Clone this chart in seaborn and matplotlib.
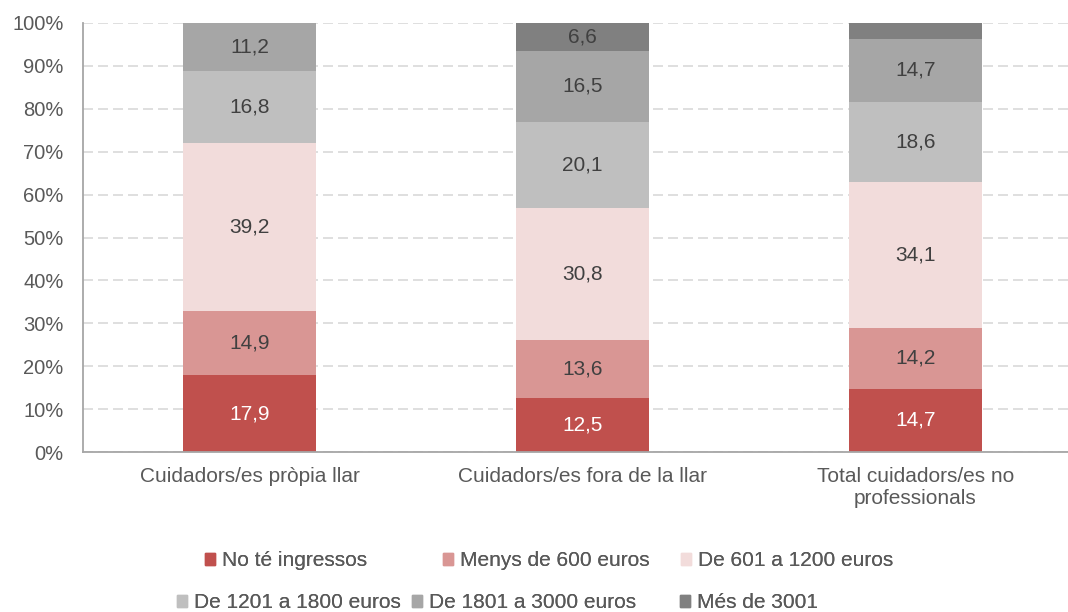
"""Stacked 100% bar chart: income of non-professional carers."""

import numpy as np
import pandas as pd
import matplotlib
matplotlib.use("Agg")
import matplotlib.pyplot as plt
import matplotlib.patches as mpatches
import seaborn as sns

CATEGORIES = [
    "Cuidadors/es pròpia llar",
    "Cuidadors/es fora de la llar",
    "Total cuidadors/es no\nprofessionals",
]
SERIES = [
    "No té ingressos",
    "Menys de 600 euros",
    "De 601 a 1200 euros",
    "De 1201 a 1800 euros",
    "De 1801 a 3000 euros",
    "Més de 3001",
]
NO_INGRESSOS = [17.9, 12.5, 14.7]
MENYS_600 = [14.9, 13.6, 14.2]
DE_601_1200 = [39.2, 30.8, 34.1]
DE_1201_1800 = [16.8, 20.1, 18.6]
DE_1801_3000 = [11.2, 16.5, 14.7]
MES_3001 = [0.0, 6.6, 3.7]
SHOW_LABEL_3001 = [False, True, False]

COLORS = ["#C0504D", "#D99694", "#F2DCDB", "#BFBFBF", "#A6A6A6", "#808080"]
TEXT = "#595959"

W, H = 1068, 612

values = np.array([NO_INGRESSOS, MENYS_600, DE_601_1200,
                   DE_1201_1800, DE_1801_3000, MES_3001])
cum = values.cumsum(axis=0)

sns.set_style("white")
plt.rcParams["font.family"] = ["Liberation Sans", "DejaVu Sans"]

fig = plt.figure(figsize=(W / 100, H / 100), dpi=100)
ax = fig.add_axes([83 / W, 160 / H, 999 / W, 429 / H])

# stacked bars: draw cumulative totals from the top down
for k in range(len(SERIES) - 1, -1, -1):
    df = pd.DataFrame({"cat": CATEGORIES, "val": cum[k]})
    sns.barplot(data=df, x="cat", y="val", order=CATEGORIES, color=COLORS[k],
                saturation=1, width=0.4, ax=ax, zorder=2, linewidth=0)

# data labels
for k in range(len(SERIES)):
    for i in range(len(CATEGORIES)):
        v = values[k, i]
        if v <= 0:
            continue
        if k == 5 and not SHOW_LABEL_3001[i]:
            continue
        y = cum[k, i] - v / 2
        col = "white" if k == 0 else "#404040"
        ax.text(i, y, f"{v:.1f}".replace(".", ","), ha="center", va="center",
                fontsize=15, color=col, zorder=3)

ax.set_xlim(-0.5, 2.5)
ax.set_ylim(0, 100)
ax.set_yticks(np.arange(0, 101, 10))
ax.set_yticklabels([f"{t}%" for t in range(0, 101, 10)])
ax.yaxis.grid(True, color="#D9D9D9", linestyle=(0, (6, 3)), linewidth=1.2)
ax.set_axisbelow(True)
ax.set_xlabel("")
ax.set_ylabel("")
ax.tick_params(axis="both", length=0, colors=TEXT)
ax.tick_params(axis="x", pad=11, labelsize=15)
ax.tick_params(axis="y", pad=14, labelsize=14.5)
for s in ["top", "right"]:
    ax.spines[s].set_visible(False)
for s in ["left", "bottom"]:
    ax.spines[s].set_color("#A6A6A6")
    ax.spines[s].set_linewidth(1.3)

# legend: Excel-style wrapped entries, one slot per entry
handles = [mpatches.Patch(color=c, label=s) for c, s in zip(COLORS, SERIES)]
slots = [(205, 561), (443, 561), (681, 561), (177, 603), (412, 603), (680, 603)]
for h, (x, y) in zip(handles, slots):
    leg = fig.legend(handles=[h], loc="center left",
                     bbox_to_anchor=(x / W, 1 - y / H), frameon=False,
                     fontsize=15, handlelength=0.5, handleheight=0.5,
                     handletextpad=0.3, labelcolor=TEXT, borderaxespad=0,
                     borderpad=0)
    fig.add_artist(leg)

fig.savefig("out.png", dpi=100)
